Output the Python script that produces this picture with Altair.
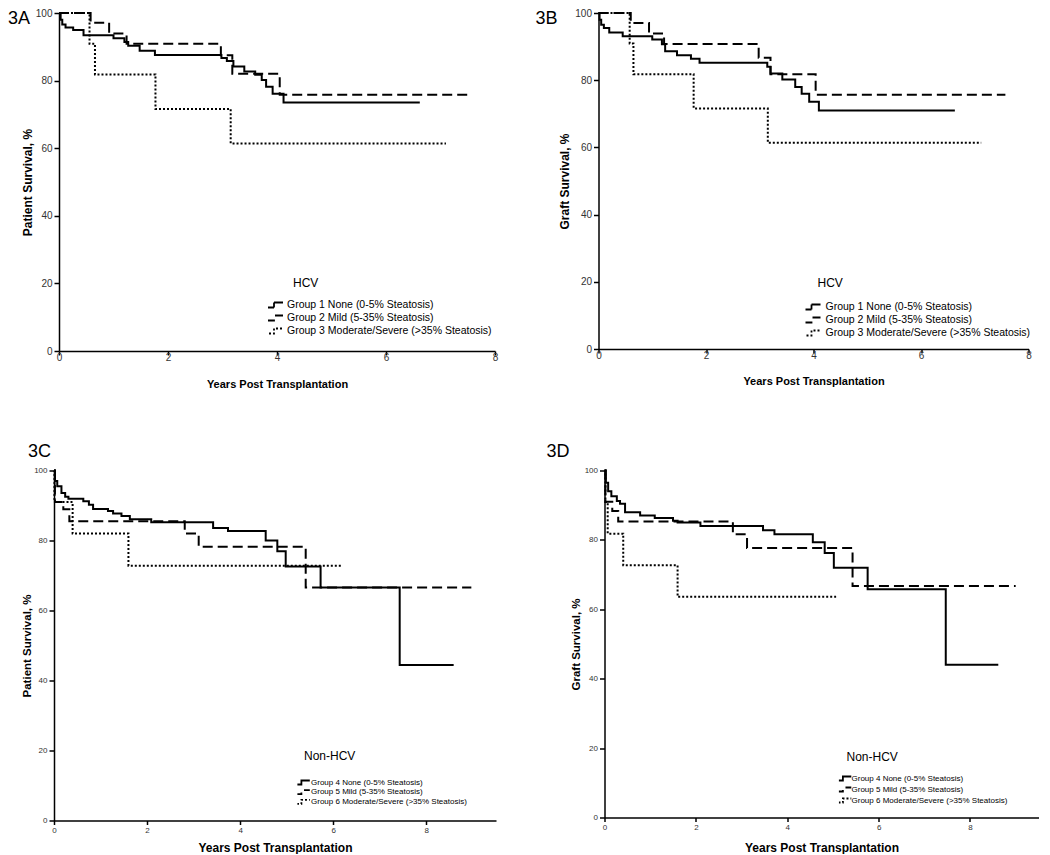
import altair as alt
import pandas as pd

FONT = "Liberation Sans"

# ---------------- data ----------------
A_g1_t = [0, 0.03, 0.06, 0.12, 0.26, 0.45, 1.0, 1.2, 1.27, 1.48, 1.76, 2.98, 3.08, 3.2, 3.4, 3.6, 3.72, 3.8, 3.92, 4.12, 6.62]
A_g1_s = [100, 98, 96.6, 95.7, 95, 93.4, 92.5, 91.4, 90.3, 88.8, 87.6, 86.7, 85.8, 84.2, 82.7, 81.7, 80.2, 78.2, 76.1, 73.5, 73.5]
A_g2_t = [0, 0.58, 0.92, 1.24, 2.97, 3.18, 4.05, 7.53]
A_g2_s = [100, 97.1, 93.9, 90.9, 87.5, 82.0, 75.8, 75.8]
A_g3_t = [0, 0.56, 0.66, 1.77, 3.15, 7.1]
A_g3_s = [100, 90.9, 81.8, 71.6, 61.4, 61.4]

B_g1_t = [0, 0.02, 0.05, 0.1, 0.2, 0.45, 1.0, 1.18, 1.24, 1.46, 1.72, 1.88, 3.14, 3.2, 3.42, 3.66, 3.78, 3.92, 4.1, 6.63]
B_g1_s = [100, 98, 96.5, 95.5, 94.2, 93.1, 92.1, 90.7, 88.6, 87.4, 86.4, 85.2, 84.0, 82.0, 80.2, 78.0, 76.0, 73.6, 71.0, 71.0]
B_g2_t = [0, 0.6, 0.94, 1.22, 2.98, 3.2, 4.04, 7.57]
B_g2_s = [100, 97.0, 93.9, 90.8, 86.7, 81.8, 75.7, 75.7]
B_g3_t = [0, 0.58, 0.65, 1.77, 3.15, 7.12]
B_g3_s = [100, 90.9, 81.8, 71.6, 61.4, 61.4]

C_g4_t = [0, 0.02, 0.07, 0.16, 0.24, 0.31, 0.63, 0.75, 0.84, 1.16, 1.27, 1.45, 1.63, 2.09, 3.42, 3.74, 4.55, 4.8, 4.98, 5.73, 7.43, 8.59]
C_g4_s = [100, 97.0, 95.5, 93.6, 92.5, 91.9, 91.2, 90.2, 89.0, 88.4, 87.7, 87.0, 86.1, 85.2, 83.6, 82.7, 80.0, 76.9, 72.6, 66.6, 44.4, 44.4]
C_g5_t = [0, 0.02, 0.2, 0.33, 2.81, 3.11, 5.41, 8.97]
C_g5_s = [100, 91.0, 88.9, 85.5, 82.0, 78.2, 66.6, 66.6]
C_g6_t = [0, 0.01, 0.4, 1.6, 6.18]
C_g6_s = [100, 91.0, 82.0, 72.8, 72.8]

D_g4_t = [0, 0.03, 0.08, 0.15, 0.27, 0.34, 0.45, 0.78, 1.1, 1.5, 1.6, 2.1, 3.47, 3.72, 4.56, 4.82, 5.02, 5.76, 7.47, 8.62]
D_g4_s = [100, 96.5, 94.0, 92.6, 91.2, 90.4, 88.0, 87.0, 86.3, 85.5, 85.0, 84.0, 82.8, 81.6, 79.3, 76.2, 72.0, 65.8, 44.0, 44.0]
D_g5_t = [0, 0.02, 0.17, 0.3, 2.81, 3.12, 5.43, 9.0]
D_g5_s = [100, 91.0, 88.3, 85.3, 81.6, 77.7, 66.7, 66.7]
D_g6_t = [0, 0.02, 0.07, 0.41, 1.6, 5.07]
D_g6_s = [100, 90.9, 81.8, 72.7, 63.6, 63.6]

HCV_LABELS = ["Group 1 None (0-5% Steatosis)", "Group 2 Mild (5-35% Steatosis)",
              "Group 3 Moderate/Severe (>35% Steatosis)"]
NON_LABELS = ["Group 4 None (0-5% Steatosis)", "Group 5 Mild (5-35% Steatosis)",
              "Group 6 Moderate/Severe (>35% Steatosis)"]
X_TICKS = [0, 2, 4, 6, 8]
Y_TICKS = [0, 20, 40, 60, 80, 100]
DASHES = [[1, 0], [10, 5], [2, 2]]


def frame(series, labels):
    rows = []
    for (t, s), g in zip(series, labels):
        for ti, si in zip(t, s):
            rows.append({"t": ti, "s": si, "g": g})
    return pd.DataFrame(rows)


def panel(df, labels, xmax, w, h, ytitle, tag, tag_pos, sub, sub_pos, leg,
          tick_font, xt_font, yt_font, ytx, xty, xlabpad, xtick, shift=0, pad_x=None):
    sym_size, sym_path, leg_x, leg_y, leg_font, leg_off, row_pad, clip_h = leg
    xscale = alt.Scale(domain=[0, xmax], nice=False)
    if shift:
        xscale = alt.Scale(domain=[0, xmax], nice=False, range=[-shift, w])
    line = alt.Chart(df).mark_line(interpolate="step-after", color="black", strokeWidth=2).encode(
        x=alt.X("t:Q", scale=xscale,
                axis=alt.Axis(values=X_TICKS, title="Years Post Transplantation", grid=False,
                              labelFontSize=tick_font, labelPadding=xlabpad, tickSize=xtick,
                              titleFontSize=xt_font, titleX=(w - shift) / 2, titleY=xty,
                              titleBaseline="middle", labelFlush=False)),
        y=alt.Y("s:Q", scale=alt.Scale(domain=[0, 100], nice=False),
                axis=alt.Axis(values=Y_TICKS, title=ytitle, grid=False, offset=shift,
                              labelFontSize=tick_font, labelPadding=2, tickSize=5,
                              titleFontSize=yt_font, titleX=ytx, titleY=h / 2,
                              titleBaseline="middle", labelFlush=False)),
        strokeDash=alt.StrokeDash("g:N", scale=alt.Scale(domain=labels, range=DASHES),
                                  legend=alt.Legend(title=None, orient="none", legendX=leg_x,
                                                    legendY=leg_y, symbolType=sym_path,
                                                    symbolSize=sym_size, symbolStrokeWidth=1.8,
                                                    symbolStrokeColor="black",
                                                    symbolFillColor="transparent",
                                                    labelFont=FONT, labelFontSize=leg_font,
                                                    labelColor="black", labelOffset=leg_off,
                                                    rowPadding=row_pad, clipHeight=clip_h,
                                                    padding=0, labelLimit=400)),
    )
    tag_df = pd.DataFrame({"txt": [tag]})
    tag_l = alt.Chart(tag_df).mark_text(align="left", baseline=tag_pos[2], fontSize=18,
                                        font=FONT, color="black").encode(
        x=alt.value(tag_pos[0]), y=alt.value(tag_pos[1]), text="txt:N")
    sub_df = pd.DataFrame({"txt": [sub]})
    sub_l = alt.Chart(sub_df).mark_text(align="left", baseline="middle", fontSize=12,
                                        font=FONT, color="black").encode(
        x=alt.value(sub_pos[0]), y=alt.value(sub_pos[1]), text="txt:N")
    layers = [line, tag_l, sub_l]
    if pad_x is not None:
        layers.append(alt.Chart(tag_df).mark_text(align="left", baseline="middle", fontSize=10,
                                                  font=FONT, opacity=0).encode(
            x=alt.value(pad_x), y=alt.value(h / 2), text="txt:N"))
    return alt.layer(*layers).properties(width=w, height=h)


dfA = frame([(A_g1_t, A_g1_s), (A_g2_t, A_g2_s), (A_g3_t, A_g3_s)], HCV_LABELS)
dfB = frame([(B_g1_t, B_g1_s), (B_g2_t, B_g2_s), (B_g3_t, B_g3_s)], HCV_LABELS)
dfC = frame([(C_g4_t, C_g4_s), (C_g5_t, C_g5_s), (C_g6_t, C_g6_s)], NON_LABELS)
dfD = frame([(D_g4_t, D_g4_s), (D_g5_t, D_g5_s), (D_g6_t, D_g6_s)], NON_LABELS)

TOP_PATH = "M-1.8,0.5H0V-0.5H1.8"
BOT_PATH = "M-2.8,0.67H0V-0.67H2.8"

pA = panel(dfA, HCV_LABELS, 8, 436, 338, "Patient Survival, %", "3A", (-51, -3, "top"),
           "HCV", (234, 270), (100, TOP_PATH, 209, 286, 10.5, 7, 1, 12),
           10, 11, 12, -32, 33, -2.5, 4)
pB = panel(dfB, HCV_LABELS, 8, 430, 336, "Graft Survival, %", "3B", (-63, -3, "top"),
           "HCV", (219, 270), (100, TOP_PATH, 207, 288, 10.5, 8, 1, 12),
           10, 11, 12, -34, 32, -2.5, 4)
pC = panel(dfC, NON_LABELS, 9.5, 437, 350, "Patient Survival, %", "3C", (-31, -19, "middle"),
           "Non-HCV", (245, 285), (36, BOT_PATH, 238.4, 308, 8, 5.6, 1.7, 8),
           8, 12, 11.5, -26.5, 27, 1.7, 4, shift=5)
pD = panel(dfD, NON_LABELS, 9.5, 434, 347, "Graft Survival, %", "3D", (-58, -19, "middle"),
           "Non-HCV", (242, 286), (36, BOT_PATH, 234.4, 304, 8, 4.6, 3, 8),
           8, 12, 11.5, -28, 30, 1.7, 4, pad_x=-69)

chart = alt.concat(pA, pB, pC, pD, columns=2, align="none",
                   spacing={"row": 53.5, "column": 34.5}).resolve_scale(
    x="independent", y="independent", strokeDash="independent").resolve_legend(
    strokeDash="independent").properties(padding=0, background="white").configure_view(
    strokeWidth=0).configure_axis(
    domainColor="black", domainWidth=1.5, tickColor="black", tickWidth=1.5,
    labelColor="#333333", labelFont=FONT, titleFont=FONT, titleFontWeight="bold",
    titleColor="black")

chart.save("out.html", embed_options={"renderer": "svg", "actions": False})
